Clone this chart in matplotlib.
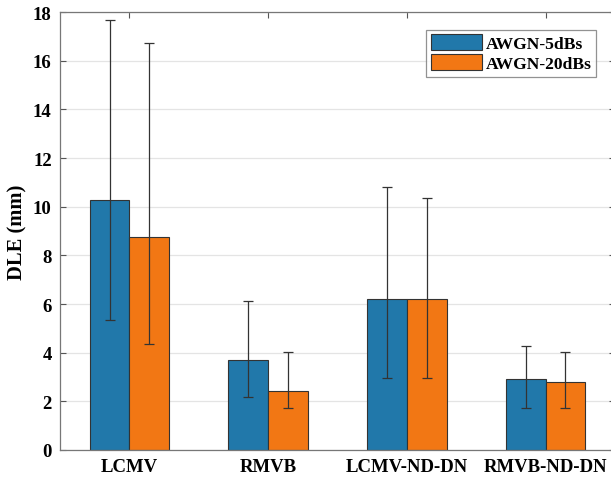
""" DLE bar chart with error bars """

# Imports
import numpy as np
import matplotlib.pyplot as plt

plt.rcParams['font.family'] = ['Liberation Serif', 'DejaVu Serif']
plt.rcParams['font.weight'] = 'bold'

# data
methods = ["LCMV", "RMVB", "LCMV-ND-DN", "RMVB-ND-DN"]
series = ["AWGN-5dBs", "AWGN-20dBs"]
dle_5db = [10.28, 3.70, 6.19, 2.90]
dle_20db = [8.74, 2.41, 6.19, 2.79]
low_5db = [5.36, 2.19, 2.97, 1.71]
high_5db = [17.66, 6.12, 10.81, 4.27]
low_20db = [4.36, 1.71, 2.97, 1.71]
high_20db = [16.71, 4.03, 10.36, 4.03]

blue = "#2178aa"
orange = "#f27714"

fig = plt.figure(figsize=(6.11, 4.85), dpi=100)
ax = fig.add_axes([60 / 611, 34 / 485, 555 / 611, 438 / 485])

x = np.arange(1, len(methods) + 1)
w = 0.287
off = 0.143

for vals, lo, hi, col, lab, sgn in [(dle_5db, low_5db, high_5db, blue, series[0], -1),
                                    (dle_20db, low_20db, high_20db, orange, series[1], 1)]:
    vals = np.array(vals)
    err = [vals - np.array(lo), np.array(hi) - vals]
    ax.bar(x + sgn * off, vals, w, color=col, edgecolor="#333333",
           linewidth=0.8, label=lab, zorder=2)
    ax.errorbar(x + sgn * off, vals, yerr=err, fmt="none", ecolor="#333333",
                elinewidth=0.9, capsize=3.6, capthick=0.9, zorder=3)

ax.set_xlim(0.5, 4.5)
ax.set_ylim(0, 18)
ax.set_yticks(np.arange(0, 19, 2))
ax.set_xticks(x)
ax.set_xticklabels(methods, fontsize=13.5, fontweight="bold")
ax.tick_params(axis="y", labelsize=13.5)
ax.tick_params(direction="in", length=4, top=True, right=True,
               color="#555555", pad=6)
for lbl in ax.get_yticklabels():
    lbl.set_fontweight("bold")
ax.yaxis.grid(True, color="#e4e4e4", linewidth=0.9, zorder=0)
ax.set_axisbelow(True)
for s in ax.spines.values():
    s.set_color("#777777")
    s.set_linewidth(0.9)

ax.set_ylabel("DLE (mm)", fontsize=14.8, fontweight="bold", labelpad=4)

leg = ax.legend(loc="upper right", bbox_to_anchor=(0.966, 0.960),
                fontsize=12.6, frameon=True, fancybox=False, edgecolor="#777777",
                handlelength=2.9, handleheight=1.0, handletextpad=0.25,
                borderpad=0.25, labelspacing=0.15, borderaxespad=0)
leg.get_frame().set_linewidth(0.9)
for t in leg.get_texts():
    t.set_fontweight("bold")

plt.savefig("out.png", dpi=100)
